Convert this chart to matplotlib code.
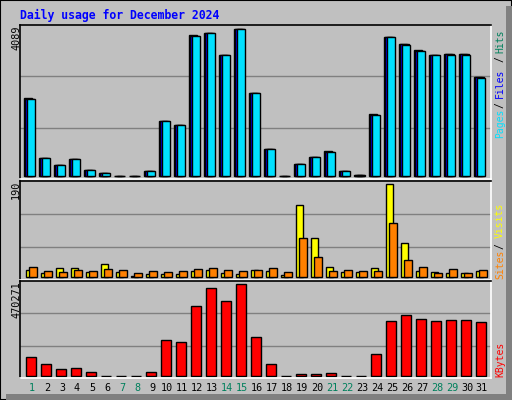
import numpy as np
import matplotlib
matplotlib.use("Agg")
import matplotlib.pyplot as plt
from matplotlib.patches import Rectangle

days = np.arange(1, 32)
weekend = [1, 7, 8, 14, 15, 21, 22, 28, 29]

hits = [2160, 510, 306, 480, 167, 90, 12, 12, 145, 1530, 1419, 3920, 3978, 3366, 4089, 2309,
        760, 12, 334, 528, 690, 139, 35, 1720, 3866, 3670, 3500, 3366, 3390, 3390, 2750]
files = [2150, 505, 306, 478, 167, 88, 12, 12, 142, 1530, 1419, 3905, 3978, 3366, 4089, 2309,
         755, 12, 334, 528, 680, 139, 32, 1710, 3866, 3660, 3490, 3366, 3380, 3380, 2740]
pages = [2142, 500, 306, 473, 167, 83, 10, 10, 139, 1530, 1419, 3894, 3978, 3366, 4089, 2309,
         751, 10, 334, 528, 668, 139, 30, 1697, 3866, 3644, 3477, 3366, 3366, 3366, 2726]
visits = [15, 9, 19, 19, 11, 27, 11, 3, 7, 7, 7, 13, 15, 9, 7, 15,
          13, 5, 147, 79, 21, 11, 11, 19, 190, 69, 13, 11, 9, 9, 13]
sites = [21, 13, 11, 15, 13, 17, 15, 9, 13, 11, 13, 17, 19, 15, 13, 15,
         19, 11, 79, 40, 13, 15, 13, 13, 110, 34, 21, 9, 17, 9, 15]
kbytes = [99500, 63500, 37800, 42900, 22300, 2000, 2000, 2000, 22300, 181900, 171600, 357000,
          449600, 382700, 470271, 197300, 63500, 2000, 12000, 12000, 17200, 2000, 2000, 115000,
          279700, 310600, 290000, 279700, 284900, 284900, 274600]

W, H = 512, 400
fig = plt.figure(figsize=(W / 100, H / 100), dpi=100)
fig.patch.set_facecolor("#C0C0C0")
mono = "DejaVu Sans Mono"

# outer bevel
fig.add_artist(Rectangle((0, 0), 1, 1, transform=fig.transFigure, fill=False, ec="black", lw=1.5))
fig.add_artist(Rectangle((506 / W, 0), 6 / W, 1 - 6 / H, transform=fig.transFigure, fc="#808080", ec="none"))
fig.add_artist(Rectangle((6 / W, 0), 1 - 6 / W, 6 / H, transform=fig.transFigure, fc="#808080", ec="none"))

# day d is centred at pixel 16 + 15*d
X0, XK = 16, 15


def px_axes(x0, y0, x1, y1):
    return fig.add_axes([x0 / W, 1 - y1 / H, (x1 - x0) / W, (y1 - y0) / H])


def style(ax, top_val, pad_bot, pad_top, span):
    ax.set_facecolor("#C0C0C0")
    ax.set_xlim((20 - X0) / XK, (491 - X0) / XK)
    ax.set_ylim(-pad_bot / span * top_val, top_val * (1 + pad_top / span))
    ax.set_xticks([])
    ax.set_yticks([])
    for s in ["top", "left"]:
        ax.spines[s].set_color("black")
    for s in ["bottom", "right"]:
        ax.spines[s].set_color("white")
    for s in ax.spines.values():
        s.set_linewidth(1.2)
    for f in (1 / 3, 2 / 3):
        ax.plot([0, 1], [f, f], transform=ax.transAxes, color="#808080", lw=1, zorder=0)


ek = dict(edgecolor="black", linewidth=1)

ax1 = px_axes(20, 25, 491, 179)
style(ax1, max(hits), 3, 4, 147)
ax1.bar(days - 0.18, hits, width=0.55, color="#00805C", **ek, zorder=2)
ax1.bar(days - 0.1, files, width=0.55, color="#0000FF", **ek, zorder=3)
ax1.bar(days, pages, width=0.55, color="#00E0FF", **ek, zorder=4)

ax2 = px_axes(20, 181, 491, 280)
style(ax2, max(visits), 3, 3, 93)
ax2.bar(days - 0.1, visits, width=0.5, color="#FFFF00", **ek, zorder=2)
ax2.bar(days + 0.12, sites, width=0.5, color="#FF8000", **ek, zorder=3)

ax3 = px_axes(20, 281, 491, 378)
style(ax3, max(kbytes), 2, 3, 92)
ax3.bar(days, kbytes, width=0.65, color="#FF0000", **ek, zorder=2)

# title and axis texts
fig.text(20 / W, 1 - 15 / H, "Daily usage for December 2024", color="#0000FF",
         family=mono, weight="bold", fontsize=8.3, va="center")
for y, lab in [(25, "4089"), (181, "190"), (281, "470271")]:
    fig.text(16 / W, 1 - y / H, lab, rotation=90, family=mono, fontsize=7.3,
             ha="center", va="top")

for d in days:
    x = X0 + XK * d + 1
    fig.text(x / W, 1 - 388 / H, str(d), family=mono, fontsize=7.3, ha="center", va="center",
             color="#00805C" if d in weekend else "black")

right = [(41, "Hits", "#00805C"), (59, "/", "black"), (83, "Files", "#0000FF"),
         (105, "/", "black"), (123, "Pages", "#00E0FF"),
         (220, "Visits", "#FFFF00"), (246, "/", "black"), (264, "Sites", "#FF8000"),
         (359, "KBytes", "#FF0000")]
for y, lab, c in right:
    fig.text(500 / W, 1 - y / H, lab, rotation=90, family=mono, fontsize=7,
             ha="center", va="center", color=c)

fig.savefig("out.png", dpi=100, facecolor=fig.get_facecolor())
